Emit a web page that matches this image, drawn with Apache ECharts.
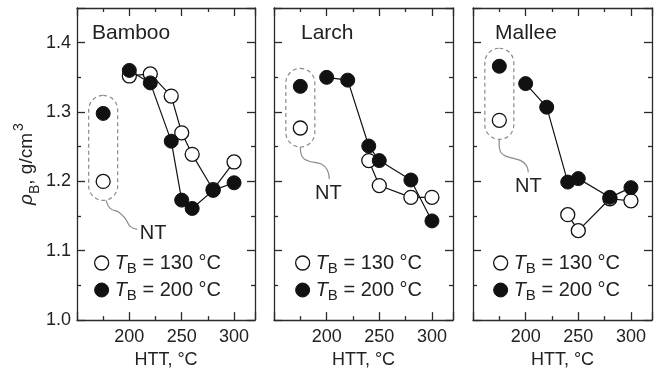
<!DOCTYPE html>
<html>
<head>
<meta charset="utf-8">
<script src="https://cdn.jsdelivr.net/npm/echarts@6/dist/echarts.min.js"></script>
<style>
  html, body { margin: 0; padding: 0; background: #fff; }
  #main { width: 658px; height: 374px; }
</style>
</head>
<body>
<div id="main"></div>
<script>
// bulk density rhoB (g/cm3) vs heat treatment temperature HTT (°C)
const woods = ['Bamboo', 'Larch', 'Mallee'];
const ntHTT = 175; // NT (non-treated) samples sit at this x

const bambooHTT130 = [200, 220, 240, 250, 260, 280, 300];
const bambooRho130 = [1.352, 1.355, 1.323, 1.270, 1.239, 1.188, 1.228];
const bambooHTT200 = [200, 220, 240, 250, 260, 280, 300];
const bambooRho200 = [1.360, 1.342, 1.258, 1.173, 1.161, 1.187, 1.198];

const larchHTT130 = [240, 250, 280, 300];
const larchRho130 = [1.230, 1.194, 1.177, 1.177];
const larchHTT200 = [200, 220, 240, 250, 280, 300];
const larchRho200 = [1.350, 1.346, 1.251, 1.230, 1.202, 1.143];

const malleeHTT130 = [240, 250, 280, 300];
const malleeRho130 = [1.152, 1.129, 1.175, 1.172];
const malleeHTT200 = [200, 220, 240, 250, 280, 300];
const malleeRho200 = [1.341, 1.307, 1.199, 1.204, 1.177, 1.191];

// NT values, order: bamboo, larch, mallee
const ntRho130 = [1.200, 1.277, 1.288];
const ntRho200 = [1.298, 1.337, 1.366];

const xTickLabels = [200, 250, 300];
const yTickLabels = [1.0, 1.1, 1.2, 1.3, 1.4];

const FONT = '"Liberation Sans", Arial, Helvetica, sans-serif';
const INK = '#111';
const FRAME = '#2a2a2a';

const gridLeft = [77, 274, 473];
const gridWidth = [178, 179, 179];
const titleOffset = [15, 27, 22];
const legendOffset = [17, 21, 20];

function pairs(xs, ys) {
  return xs.map((x, i) => [x, ys[i]]);
}

const openStyle = { color: '#fff', borderColor: INK, borderWidth: 1.3, opacity: 1 };
const fillStyle = { color: INK, borderColor: INK, borderWidth: 1, opacity: 1 };

const lineData130 = [pairs(bambooHTT130, bambooRho130), pairs(larchHTT130, larchRho130), pairs(malleeHTT130, malleeRho130)];
const lineData200 = [pairs(bambooHTT200, bambooRho200), pairs(larchHTT200, larchRho200), pairs(malleeHTT200, malleeRho200)];

const xAxes = [];
const yAxes = [];
const grids = [];
const series = [];
const titles = [];
const legends = [];

function xAxisBase(i, pos) {
  return {
    type: 'value', gridIndex: i, position: pos, min: 150, max: 320, interval: 50,
    axisLine: { show: true, onZero: false, lineStyle: { color: FRAME, width: 1.3 } },
    axisTick: { show: true, inside: true, length: 8, lineStyle: { color: FRAME, width: 1.3 } },
    minorTick: { show: true, splitNumber: 2, length: 4, lineStyle: { color: FRAME, width: 1.3 } },
    splitLine: { show: false },
    axisLabel: { show: false }
  };
}

function yAxisBase(i, pos) {
  return {
    type: 'value', gridIndex: i, position: pos, min: 1.0, max: 1.45, interval: 0.1,
    axisLine: { show: true, onZero: false, lineStyle: { color: FRAME, width: 1.3 } },
    axisTick: { show: true, inside: true, length: 8, lineStyle: { color: FRAME, width: 1.3 } },
    minorTick: { show: true, splitNumber: 2, length: 4, lineStyle: { color: FRAME, width: 1.3 } },
    splitLine: { show: false },
    axisLabel: { show: false }
  };
}

for (let i = 0; i < 3; i++) {
  grids.push({ left: gridLeft[i], top: 8, width: gridWidth[i], height: 316, containLabel: false });

  const xb = xAxisBase(i, 'bottom');
  xb.axisLabel = {
    show: true, margin: 8, fontSize: 18, color: '#222', fontFamily: FONT,
    formatter: v => (xTickLabels.indexOf(Math.round(v)) >= 0 ? String(Math.round(v)) : '')
  };
  xb.name = 'HTT, °C';
  xb.nameLocation = 'middle';
  xb.nameGap = 28;
  xb.nameTextStyle = { fontSize: 18, color: '#222', fontFamily: FONT };
  xAxes.push(xb);

  const yl = yAxisBase(i, 'left');
  if (i === 0) {
    yl.axisLabel = {
      show: true, margin: 6, fontSize: 18, color: '#222', fontFamily: FONT,
      formatter: v => {
        const r = Math.round(v * 10) / 10;
        return yTickLabels.some(t => Math.abs(t - v) < 1e-6) ? r.toFixed(1) : '';
      }
    };
    yl.name = '{r|ρ}{s|B}{n|, g/cm}{p|3}';
    yl.nameLocation = 'middle';
    yl.nameGap = 33;
    yl.nameTextStyle = {
      fontFamily: FONT, color: '#222',
      rich: {
        r: { fontSize: 19, fontStyle: 'italic', fontFamily: FONT, color: '#222', lineHeight: 30 },
        s: { fontSize: 14, fontFamily: FONT, color: '#222', verticalAlign: 'bottom', lineHeight: 16 },
        n: { fontSize: 19, fontFamily: FONT, color: '#222', lineHeight: 30 },
        p: { fontSize: 14, fontFamily: FONT, color: '#222', verticalAlign: 'top', lineHeight: 4, padding: [0, 0, 0, 2] }
      }
    };
  }
  yAxes.push(yl);

  titles.push({
    text: woods[i], left: gridLeft[i] + titleOffset[i], top: 23, padding: 0,
    textStyle: { fontSize: 21, fontWeight: 'normal', color: '#222', fontFamily: FONT }
  });

  legends.push({
    orient: 'vertical', left: gridLeft[i] + legendOffset[i], top: 253, padding: 0,
    itemWidth: 14, itemHeight: 14, itemGap: 4, icon: 'circle', selectedMode: false,
    data: [
      { name: '130', itemStyle: openStyle },
      { name: '200', itemStyle: fillStyle }
    ],
    formatter: n => '{t|T}{s|B}{n| = ' + n + ' °C}',
    textStyle: {
      fontFamily: FONT, color: '#222', padding: [0, 0, 0, 1],
      rich: {
        t: { fontSize: 20, fontStyle: 'italic', fontFamily: FONT, color: '#222', lineHeight: 26 },
        s: { fontSize: 15, fontFamily: FONT, color: '#222', verticalAlign: 'bottom', lineHeight: 14 },
        n: { fontSize: 20, fontFamily: FONT, color: '#222', lineHeight: 26 }
      }
    }
  });

  series.push({
    name: '130', type: 'line', xAxisIndex: i, yAxisIndex: i, data: lineData130[i],
    symbol: 'circle', symbolSize: 14, showSymbol: true, z: 3,
    lineStyle: { color: INK, width: 1.2 }, itemStyle: openStyle
  });
  series.push({
    name: '130', type: 'scatter', xAxisIndex: i, yAxisIndex: i, data: [[ntHTT, ntRho130[i]]],
    symbol: 'circle', symbolSize: 14, z: 3, itemStyle: openStyle
  });
  series.push({
    name: '200', type: 'line', xAxisIndex: i, yAxisIndex: i, data: lineData200[i],
    symbol: 'circle', symbolSize: 14, showSymbol: true, z: 4,
    lineStyle: { color: INK, width: 1.2 }, itemStyle: fillStyle
  });
  series.push({
    name: '200', type: 'scatter', xAxisIndex: i, yAxisIndex: i, data: [[ntHTT, ntRho200[i]]],
    symbol: 'circle', symbolSize: 14, z: 4, itemStyle: fillStyle
  });
}
for (let i = 0; i < 3; i++) {
  xAxes.push(xAxisBase(i, 'top'));
  yAxes.push(yAxisBase(i, 'right'));
}

const chart = echarts.init(document.getElementById('main'), null, { renderer: 'canvas' });
chart.setOption({
  animation: false,
  backgroundColor: '#fff',
  title: titles,
  legend: legends,
  grid: grids,
  xAxis: xAxes,
  yAxis: yAxes,
  series: series
});

// dashed NT boxes with their curved leader and label
const leaderPts = [
  [[0, 0], [4, 8], [13, 12], [19, 18], [24, 26], [31, 29]],
  [[0, 0], [2, 10], [8, 14], [21, 17], [27, 23], [29, 32]],
  [[0, 0], [1, 12], [7, 17], [21, 21], [27, 26], [29, 33]]
];
const ntLabelOffset = [[50, 33], [28, 46], [29, 47]];
const graphics = [];
for (let i = 0; i < 3; i++) {
  const top = chart.convertToPixel({ gridIndex: i }, [ntHTT, ntRho200[i]]);
  const bot = chart.convertToPixel({ gridIndex: i }, [ntHTT, ntRho130[i]]);
  const y0 = top[1] - 18;
  const y1 = bot[1] + 19;
  graphics.push({
    type: 'rect', silent: true, z: 1,
    shape: { x: top[0] - 14.5, y: y0, width: 29, height: y1 - y0, r: 14.5 },
    style: { fill: 'none', stroke: '#8a8a8a', lineWidth: 1.2, lineDash: [4, 3] }
  });
  const sx = top[0] + (i === 0 ? 3 : 0);
  graphics.push({
    type: 'polyline', silent: true, z: 1,
    shape: { points: leaderPts[i].map(p => [sx + p[0], y1 + p[1]]), smooth: 0.4 },
    style: { fill: 'none', stroke: '#8a8a8a', lineWidth: 1.2 }
  });
  graphics.push({
    type: 'text', silent: true, z: 1,
    x: top[0] + ntLabelOffset[i][0], y: y1 + ntLabelOffset[i][1],
    style: {
      text: 'NT', fontSize: 20, fontFamily: FONT, fill: '#222',
      align: 'center', verticalAlign: 'middle'
    }
  });
}
chart.setOption({ graphic: graphics });
</script>
</body>
</html>
